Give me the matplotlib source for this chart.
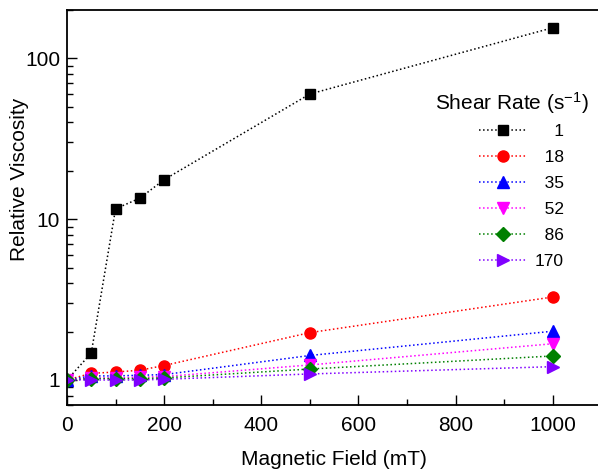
import numpy as np
import matplotlib.pyplot as plt
from matplotlib.ticker import MultipleLocator, LogLocator, FixedFormatter, FixedLocator, NullFormatter

plt.rcParams['font.family'] = ['Liberation Sans', 'DejaVu Sans']
plt.rcParams['mathtext.default'] = 'regular'

field = np.array([0, 50, 100, 150, 200, 500, 1000])
shear_rates = ['1', '18', '35', '52', '86', '170']
visc_1 = [1.0, 1.47, 11.6, 13.5, 17.6, 60, 155]
visc_18 = [1.0, 1.10, 1.12, 1.15, 1.23, 1.97, 3.28]
visc_35 = [1.0, 1.06, 1.06, 1.07, 1.08, 1.42, 2.01]
visc_52 = [1.0, 1.03, 1.03, 1.04, 1.05, 1.24, 1.68]
visc_86 = [1.0, 1.02, 1.02, 1.02, 1.03, 1.17, 1.41]
visc_170 = [1.0, 1.0, 1.0, 1.0, 1.01, 1.09, 1.21]

series = [visc_1, visc_18, visc_35, visc_52, visc_86, visc_170]
colors = ['black', 'red', 'blue', 'magenta', '#008000', '#8000ff']
markers = ['s', 'o', '^', 'v', 'D', '>']
msizes = [7, 8, 8, 8, 7, 8]

# right-align the legend numbers with figure spaces
width = max(len(s) for s in shear_rates)
labels = ['\u2007' * (width - len(s)) + s for s in shear_rates]

fig = plt.figure(figsize=(5.98, 4.73), dpi=100)
ax = fig.add_axes([0.112, 0.144, 0.8935, 0.835])

for y, c, m, ms, lab in zip(series, colors, markers, msizes, labels):
    ax.plot(field, y, linestyle=':', color=c, marker=m, markersize=ms,
            linewidth=1.1, label=lab)

ax.set_yscale('log')
ax.set_xlim(0, 1100)
ax.set_ylim(0.7, 200)
ax.xaxis.set_major_locator(MultipleLocator(200))
ax.xaxis.set_minor_locator(MultipleLocator(100))
ax.yaxis.set_major_locator(FixedLocator([1, 10, 100]))
ax.yaxis.set_major_formatter(FixedFormatter(['1', '10', '100']))
ax.yaxis.set_minor_locator(LogLocator(base=10, subs=np.arange(2, 10)))
ax.yaxis.set_minor_formatter(NullFormatter())
ax.tick_params(which='both', direction='in', labelsize=15, width=1)
ax.tick_params(which='major', length=7)
ax.tick_params(which='minor', length=4)
ax.tick_params(axis='x', pad=8)
ax.tick_params(axis='y', pad=5)
for s in ax.spines.values():
    s.set_linewidth(1.3)

ax.set_xlabel('Magnetic Field (mT)', fontsize=15, labelpad=11)
ax.set_ylabel('Relative Viscosity', fontsize=15)
ax.yaxis.set_label_coords(-0.071, 0.57)

ax.text(0.689, 0.765, 'Shear Rate (s$^{-1}$)', transform=ax.transAxes,
        fontsize=15, ha='left', va='center')
leg = ax.legend(fontsize=12.5, frameon=False, loc='upper left',
                bbox_to_anchor=(0.755, 0.733), borderpad=0,
                handlelength=2.75, labelspacing=0.62, handletextpad=0.45)

fig.savefig('out.png', dpi=100)
